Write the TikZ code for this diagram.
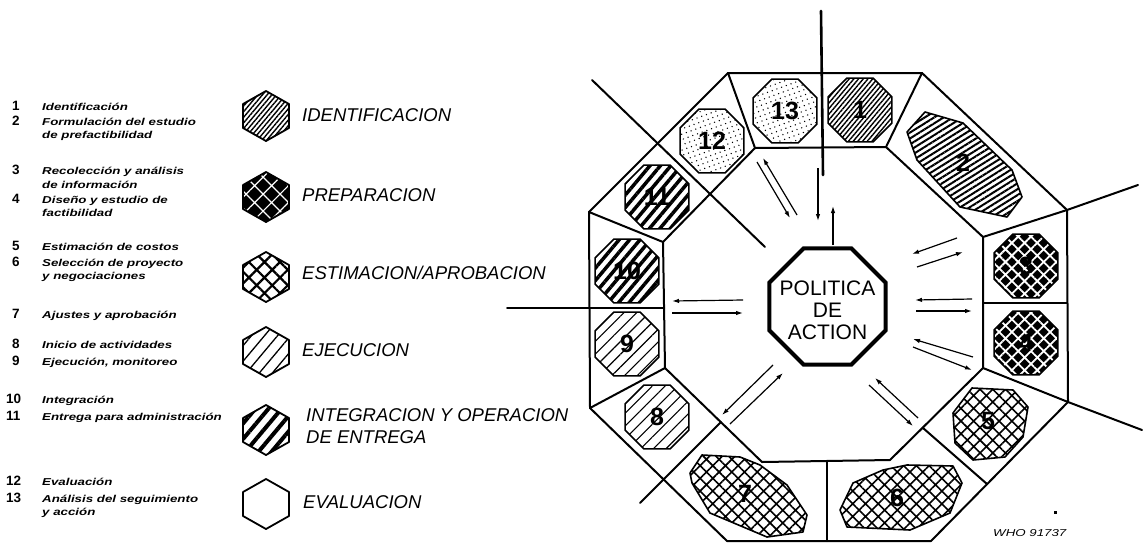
\documentclass[tikz,border=0pt]{standalone}
\usepackage{fontspec}
\setmainfont{Liberation Sans}
\newfontfamily\legfont[FakeStretch=1.33]{Liberation Sans}
\usetikzlibrary{shapes.geometric,patterns.meta,arrows.meta}
\begin{document}
\begin{tikzpicture}[x=1pt,y=-1pt,
  frame/.style={line width=2pt,line join=round,line cap=round},
  longline/.style={line width=2pt,line cap=round},
  arr/.style={line width=1.2pt,-{Latex[length=7pt,width=4.5pt]}},
  shapeline/.style={draw,line width=1.6pt,line join=round},
  secoct/.style={regular polygon,regular polygon sides=8,minimum size=69pt,inner sep=0pt,shapeline,font=\bfseries\fontsize{25}{25}\selectfont},
  secnum/.style={inner sep=0pt,font=\bfseries\fontsize{25}{25}\selectfont},
  hexst/.style={draw,line width=1.8pt,line join=round},
  pid/.style={pattern={Lines[angle=50,distance=3.6pt,line width=1.4pt]}},
  pidb/.style={pattern={Lines[angle=32,distance=5pt,line width=2pt]}},
  pprep/.style={preaction={fill=black},pattern={Hatch[angle=45,distance=9pt,line width=1.8pt]},pattern color=white},
  pprepl/.style={preaction={fill=black},pattern={Hatch[angle=45,distance=12pt,line width=1.2pt]},pattern color=white},
  pest/.style={pattern={Hatch[angle=45,distance=9pt,line width=1.6pt]}},
  pestl/.style={pattern={Hatch[angle=45,distance=11pt,line width=2.2pt]}},
  pejec/.style={pattern={Lines[angle=45,distance=9pt,line width=1.1pt]}},
  pejecl/.style={pattern={Lines[angle=50,distance=10pt,line width=1.3pt]}},
  pint/.style={pattern={Lines[angle=50,distance=8pt,line width=3.5pt]}},
  pintl/.style={pattern={Lines[angle=50,distance=10pt,line width=4pt]}},
  peval/.style={pattern={Dots[angle=20,distance=5pt,radius=0.75pt]}},
  legnum/.style={anchor=base west,inner sep=0pt,font=\bfseries\fontsize{13.5}{14}\selectfont},
  legtxt/.style={anchor=base west,inner sep=0pt,font=\legfont\bfseries\itshape\fontsize{10}{11}\selectfont},
  cat/.style={anchor=base west,inner sep=0pt,font=\itshape\fontsize{18.5}{20}\selectfont},
  politica/.style={regular polygon,regular polygon sides=8,minimum size=125.6pt,inner sep=0pt,draw,line width=4pt,line join=miter},
  poltext/.style={inner sep=0pt,align=center,font=\fontsize{21}{22}\selectfont}
]
\useasboundingbox (0,0) rectangle (1143,542);
\fill[white] (0,0) rectangle (1143,542);

% ---------------- legend list ----------------
\node[legnum] (n1) at (12,110) {1};  \node[legtxt] (t1) at (42,110) {Identificación};
\node[legnum] (n2) at (12,125) {2};  \node[legtxt] (t2) at (42,125) {Formulación del estudio};
\node[legtxt] (t2b) at (42,138) {de prefactibilidad};
\node[legnum] (n3) at (12,174) {3};  \node[legtxt] (t3) at (42,174) {Recolección y análisis};
\node[legtxt] (t3b) at (42,188) {de información};
\node[legnum] (n4) at (12,203) {4};  \node[legtxt] (t4) at (42,203) {Diseño y estudio de};
\node[legtxt] (t4b) at (42,216) {factibilidad};
\node[legnum] (n5) at (12,250) {5};  \node[legtxt] (t5) at (42,250) {Estimación de costos};
\node[legnum] (n6) at (12,266) {6};  \node[legtxt] (t6) at (42,266) {Selección de proyecto};
\node[legtxt] (t6b) at (42,279) {y negociaciones};
\node[legnum] (n7) at (12,318) {7};  \node[legtxt] (t7) at (42,318) {Ajustes y aprobación};
\node[legnum] (n8) at (12,348) {8};  \node[legtxt] (t8) at (42,348) {Inicio de actividades};
\node[legnum] (n9) at (12,365) {9};  \node[legtxt] (t9) at (42,365) {Ejecución, monitoreo};
\node[legnum] (n10) at (6,403) {10}; \node[legtxt] (t10) at (42,403) {Integración};
\node[legnum] (n11) at (6,420) {11}; \node[legtxt] (t11) at (42,420) {Entrega para administración};
\node[legnum] (n12) at (6,485) {12}; \node[legtxt] (t12) at (42,485) {Evaluación};
\node[legnum] (n13) at (6,502) {13}; \node[legtxt] (t13) at (42,502) {Análisis del seguimiento};
\node[legtxt] (t13b) at (42,515) {y acción};

% ---------------- legend hexagons ----------------
\coordinate (hx1) at (266,116);
\coordinate (hx2) at (266,197);
\coordinate (hx3) at (266,277);
\coordinate (hx4) at (266,352);
\coordinate (hx5) at (266,430);
\coordinate (hx6) at (266,504);
\foreach \h/\p in {hx1/pid,hx2/pprepl,hx3/pestl,hx4/pejecl,hx5/pintl,hx6/hexst}{
  \path[hexst,\p,shift={(\h)}] (0,-25) -- (23,-12) -- (23,12) -- (0,25) -- (-23,12) -- (-23,-12) -- cycle;
}
\node[cat] (c1) at (302,121.5) {IDENTIFICACION};
\node[cat] (c2) at (302,201.5) {PREPARACION};
\node[cat] (c3) at (302,279.5) {ESTIMACION/APROBACION};
\node[cat] (c4) at (302,356.5) {EJECUCION};
\node[cat] (c5) at (306,421.5) {INTEGRACION Y OPERACION};
\node[cat] (c5b) at (306,443.5) {DE ENTREGA};
\node[cat] (c6) at (303,508.5) {EVALUACION};

% ---------------- octagon frame ----------------
\coordinate (O1) at (728,73);  \coordinate (O2) at (922,73);
\coordinate (O3) at (1067,210);\coordinate (O4) at (1068,402);
\coordinate (O5) at (931,541); \coordinate (O6) at (727,541);
\coordinate (O7) at (590,408); \coordinate (O8) at (589,212);
\coordinate (I1) at (755,148); \coordinate (I2) at (886,147);
\coordinate (I3) at (983,237); \coordinate (I4) at (983,368);
\coordinate (I5) at (890,460); \coordinate (I6) at (762,462);
\coordinate (I7) at (665,368); \coordinate (I8) at (663,242);

% sector contents
\node[secoct,peval] (s13) at (785,111) {13};
\node[secoct,peval] (s12) at (712,141) {12};
\node[secoct,pid] (s1) at (860,110) {1};
\path[shapeline,pidb] (925,112) -- (907,132) -- (917,160) -- (960,207) -- (1007,217) -- (1022,197) -- (1012,170) -- (963,123) -- cycle;
\node[secnum] (s2) at (963,163) {2};
\node[secoct,pprep] (s3) at (1026,266) {3};
\node[secoct,pprep] (s4) at (1026,343) {4};
\path[shapeline,pest] (972,388) -- (1013,390) -- (1028,407) -- (1023,437) -- (1005,457) -- (973,460) -- (955,443) -- (953,413) -- cycle;
\node[secnum] (s5) at (988,421) {5};
\path[shapeline,pest] (840,510) -- (853,483) -- (883,470) -- (907,465) -- (953,466) -- (962,483) -- (950,513) -- (910,530) -- (847,527) -- cycle;
\node[secnum] (s6) at (897,498) {6};
\path[shapeline,pest] (690,473) -- (702,455) -- (740,457) -- (760,465) -- (787,485) -- (807,515) -- (803,532) -- (767,537) -- (710,513) -- (692,483) -- cycle;
\node[secnum] (s7) at (745,494) {7};
\node[secoct,pejec] (s8) at (657,417) {8};
\node[secoct,pejec] (s9) at (627,344) {9};
\node[secoct,pint] (s10) at (627,271) {10};
\node[secoct,pint] (s11) at (657,197) {11};

\draw[frame] (O1) -- (O2) -- (O3) -- (O4) -- (O5) -- (O6) -- (O7) -- (O8) -- cycle;
\draw[frame] (I1) -- (I2) -- (I3) -- (I4) -- (I5) -- (I6) -- (I7) -- (I8) -- cycle;

% dividers
\coordinate (D34a) at (983,303);  \coordinate (D34b) at (1067,303);
\coordinate (D56a) at (923,428);  \coordinate (D56b) at (987,484);
\coordinate (D67a) at (827,461);  \coordinate (D67b) at (827,541);
\draw[frame] (O1) -- (I1);
\draw[frame] (O2) -- (I2);
\draw[frame] (O7) -- (I7);
\draw[frame] (O8) -- (I8);
\draw[frame] (D34a) -- (D34b);
\draw[frame] (D56a) -- (D56b);
\draw[frame] (D67a) -- (D67b);

% long crossing lines
\coordinate (E131) at (821,11);   \coordinate (F131) at (823,175);
\coordinate (E1112) at (592,80);  \coordinate (F1112) at (765,247);
\coordinate (E910) at (507,308);  \coordinate (F910) at (664,308);
\coordinate (E78) at (640,503);   \coordinate (F78) at (721,422);
\coordinate (E23) at (1138,185);
\coordinate (E45) at (1142,430);
\draw[longline,line width=2.6pt] (E131) -- (F131);
\draw[longline] (E1112) -- (F1112);
\draw[longline] (E910) -- (F910);
\draw[longline] (E78) -- (F78);
\draw[longline] (E23) -- (O3) -- (I3);
\draw[longline] (E45) -- (O4) -- (I4);

% centre
\node[politica] (pol) at (827.5,306.5) {};
\node[poltext] (poltxt) at (827.5,310) {POLITICA\\DE\\ACTION};

% arrow pairs
\coordinate (a1s) at (757,162); \coordinate (a1e) at (790,218);
\coordinate (b1s) at (797,215); \coordinate (b1e) at (763,158);
\coordinate (a2s) at (818,168); \coordinate (a2e) at (818,221);
\coordinate (b2s) at (833,245); \coordinate (b2e) at (833,206);
\coordinate (a3s) at (957,238); \coordinate (a3e) at (912,254);
\coordinate (b3s) at (917,267); \coordinate (b3e) at (963,252);
\coordinate (a4s) at (972,299); \coordinate (a4e) at (915,300);
\coordinate (b4s) at (916,311); \coordinate (b4e) at (972,311);
\coordinate (a5s) at (973,357); \coordinate (a5e) at (913,339);
\coordinate (b5s) at (913,347); \coordinate (b5e) at (972,370);
\coordinate (a6s) at (918,418); \coordinate (a6e) at (875,378);
\coordinate (b6s) at (869,385); \coordinate (b6e) at (913,426);
\coordinate (a7s) at (773,365); \coordinate (a7e) at (722,415);
\coordinate (b7s) at (730,424); \coordinate (b7e) at (783,373);
\coordinate (a8s) at (743,300); \coordinate (a8e) at (672,301);
\coordinate (b8s) at (672,313); \coordinate (b8e) at (743,313);
\foreach \k in {1,...,8}{
  \draw[arr] (a\k s) -- (a\k e);
  \draw[arr] (b\k s) -- (b\k e);
}

% reference mark
\fill (1054,511) rectangle (1057,514);
\node[anchor=base west,inner sep=0pt,font=\legfont\itshape\fontsize{10}{11}\selectfont] (who) at (993,536) {WHO 91737};
\end{tikzpicture}
\end{document}
